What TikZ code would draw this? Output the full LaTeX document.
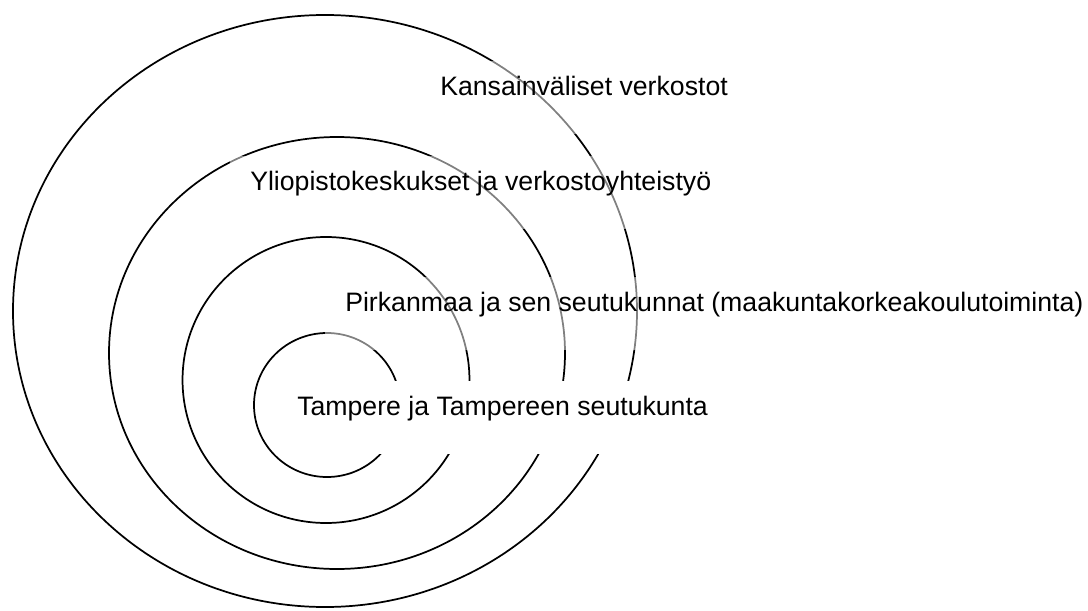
\documentclass[tikz,border=0pt]{standalone}
\usepackage{fontspec}
\setmainfont{Liberation Sans}
\tikzset{
  ring/.style={line width=1.3pt, draw=black},
  lbl/.style={font=\fontsize{20}{24}\selectfont, anchor=base west, inner xsep=15pt, inner ysep=0pt,
    text height=25.5pt, text depth=29.25pt, fill=white, fill opacity=0.5, text opacity=1},
  lblsolid/.style={lbl, fill opacity=1}
}
\begin{document}
\begin{tikzpicture}[x=0.75pt,y=-0.75pt]
\useasboundingbox (0,0) rectangle (1088,610);
\clip (0,0) rectangle (1088,610);
% rings
\draw[ring] (325,311) ellipse [x radius=234pt, y radius=222pt];
\draw[ring] (337,353) ellipse [x radius=171pt, y radius=162pt];
\draw[ring] (326,380) ellipse [x radius=107.6pt, y radius=107.25pt];
\draw[ring] (327,405) ellipse [x radius=54.75pt, y radius=54pt];
% labels
\node[lbl] (kv) at (420,95) {Kansainväliset verkostot};
\node[lbl] (yl) at (230,190) {Yliopistokeskukset ja verkostoyhteistyö};
\node[lbl] (pi) at (325,311) {Pirkanmaa ja sen seutukunnat (maakuntakorkeakoulutoiminta)};
\node[lblsolid] (ta) at (277,415) {Tampere ja Tampereen seutukunta};
\end{tikzpicture}
\end{document}
